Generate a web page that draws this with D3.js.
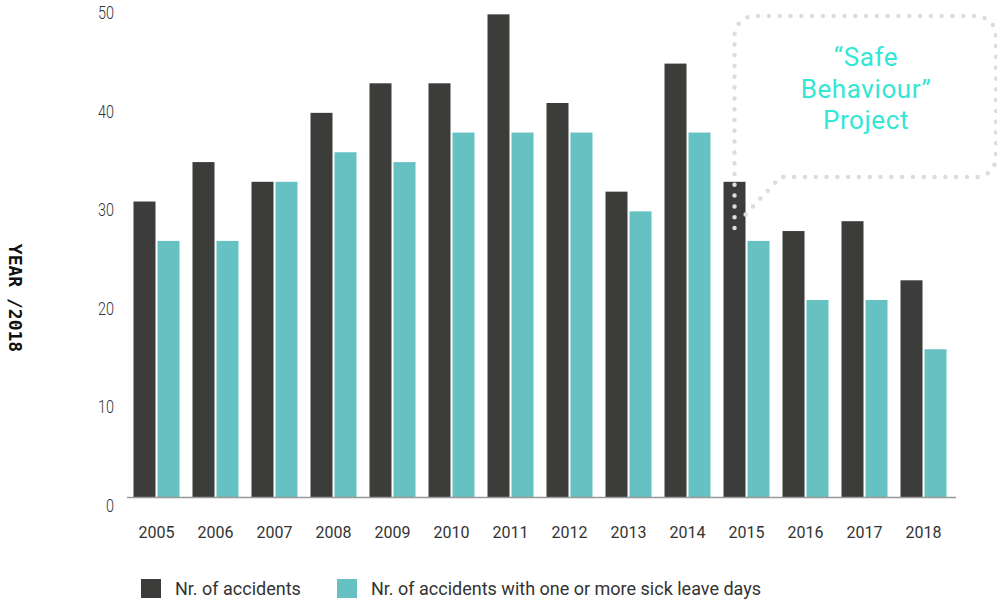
<!DOCTYPE html>
<html>
<head>
<meta charset="utf-8">
<script src="https://cdnjs.cloudflare.com/ajax/libs/d3/7.8.5/d3.min.js"></script>
<style>
  html, body { margin: 0; padding: 0; background: #fff; }
  svg { display: block; }
</style>
</head>
<body>
<svg id="chart" width="997" height="604"></svg>
<script>
// data
const years = ["2005","2006","2007","2008","2009","2010","2011","2012","2013","2014","2015","2016","2017","2018"];
const accidents = [30, 34, 32, 39, 42, 42, 49, 40, 31, 44, 32, 27, 28, 22];
const sickLeave = [26, 26, 32, 35, 34, 37, 37, 37, 29, 37, 26, 20, 20, 15];
const yTicks = [0, 10, 20, 30, 40, 50];
const seriesNames = ["Nr. of accidents", "Nr. of accidents with one or more sick leave days"];
const seriesColors = ["#3c3c3a", "#66c2c2"];
const calloutLines = ["\u201CSafe", "Behaviour\u201D", "Project"];

const svg = d3.select("#chart");

const x0 = d3.scaleBand()
    .domain(years)
    .range([127, 953])
    .paddingInner(13 / 59)
    .paddingOuter(0.11);

const x1 = d3.scaleBand()
    .domain([0, 1])
    .range([0, x0.bandwidth()])
    .paddingInner(2 / 24);

const y = d3.scaleLinear()
    .domain([0, 50])
    .range([497, 4.5]);

const rows = years.map((yr, i) => ({ year: yr, values: [accidents[i], sickLeave[i]] }));

// bars
const groups = svg.append("g")
  .selectAll("g")
  .data(rows)
  .enter().append("g")
    .attr("transform", d => "translate(" + x0(d.year) + ",0)");

groups.selectAll("rect")
  .data(d => d.values.map((v, k) => ({ k: k, v: v })))
  .enter().append("rect")
    .attr("x", d => x1(d.k))
    .attr("y", d => y(d.v))
    .attr("width", x1.bandwidth())
    .attr("height", d => y(0) - y(d.v))
    .attr("fill", d => seriesColors[d.k]);

// baseline
svg.append("line")
    .attr("x1", 127).attr("x2", 956)
    .attr("y1", y(0) + 0.5).attr("y2", y(0) + 0.5)
    .attr("stroke", "#999")
    .attr("stroke-width", 1.5);

// y tick labels (condensed look: squeeze horizontally)
svg.append("g")
  .selectAll("text")
  .data(yTicks)
  .enter().append("text")
    .attr("transform", d => "translate(114," + (y(d) + 8.5) + ") scale(0.8,1)")
    .attr("dy", "0.35em")
    .attr("text-anchor", "end")
    .attr("font-family", "Roboto, sans-serif")
    .attr("font-weight", 300)
    .attr("font-size", "18px")
    .attr("fill", "#333")
    .text(d => d);

// x tick labels
svg.append("g")
  .selectAll("text")
  .data(years)
  .enter().append("text")
    .attr("x", d => x0(d) + x0.bandwidth() / 2)
    .attr("y", 532.5)
    .attr("dy", "0.35em")
    .attr("text-anchor", "middle")
    .attr("font-family", "Roboto, sans-serif")
    .attr("font-size", "16px")
    .attr("fill", "#333")
    .text(d => d);

// rotated side label
svg.append("text")
    .attr("transform", "translate(15,298) rotate(90)")
    .attr("text-anchor", "middle")
    .attr("dy", "0.35em")
    .attr("font-family", "'DejaVu Sans Mono', monospace")
    .attr("font-weight", "bold")
    .attr("font-size", "18px")
    .attr("fill", "#111")
    .text("YEAR /2018");

// legend
const legendX = [141, 337];
const legend = svg.append("g")
  .selectAll("g")
  .data(seriesNames)
  .enter().append("g")
    .attr("transform", (d, i) => "translate(" + legendX[i] + ",579)");

legend.append("rect")
    .attr("width", 20).attr("height", 19)
    .attr("fill", (d, i) => seriesColors[i]);

legend.append("text")
    .attr("x", 34)
    .attr("y", 10)
    .attr("dy", "0.35em")
    .attr("font-family", "Roboto, sans-serif")
    .attr("font-size", "18px")
    .attr("fill", "#333")
    .text(d => d);

// callout bubble, anchored on the 2015 accidents bar
const bx = x0("2015") + x1(0) + x1.bandwidth() / 2;
const bTop = 16, bBot = 177, bRight = 996, bR = 20;
const p = d3.path();
p.moveTo(bx, 228);
p.lineTo(bx, bTop + bR);
p.arcTo(bx, bTop, bx + bR, bTop, bR);
p.lineTo(bRight - bR, bTop);
p.arcTo(bRight, bTop, bRight, bTop + bR, bR);
p.lineTo(bRight, bBot - bR);
p.arcTo(bRight, bBot, bRight - bR, bBot, bR);
p.lineTo(bx + 46, bBot);
p.lineTo(bx + 4, 222);

svg.append("path")
    .attr("d", p.toString())
    .attr("fill", "none")
    .attr("stroke", "#dcdcdc")
    .attr("stroke-width", 4.5)
    .attr("stroke-linecap", "round")
    .attr("stroke-dasharray", "0 10.8");

svg.append("g")
  .selectAll("text")
  .data(calloutLines)
  .enter().append("text")
    .attr("x", 866)
    .attr("y", (d, i) => 57 + i * 31.5)
    .attr("dy", "0.35em")
    .attr("text-anchor", "middle")
    .attr("font-family", "Roboto, sans-serif")
    .attr("font-size", "26px")
    .attr("letter-spacing", "0.6px")
    .attr("fill", "#33e6d6")
    .text(d => d);
</script>
</body>
</html>
